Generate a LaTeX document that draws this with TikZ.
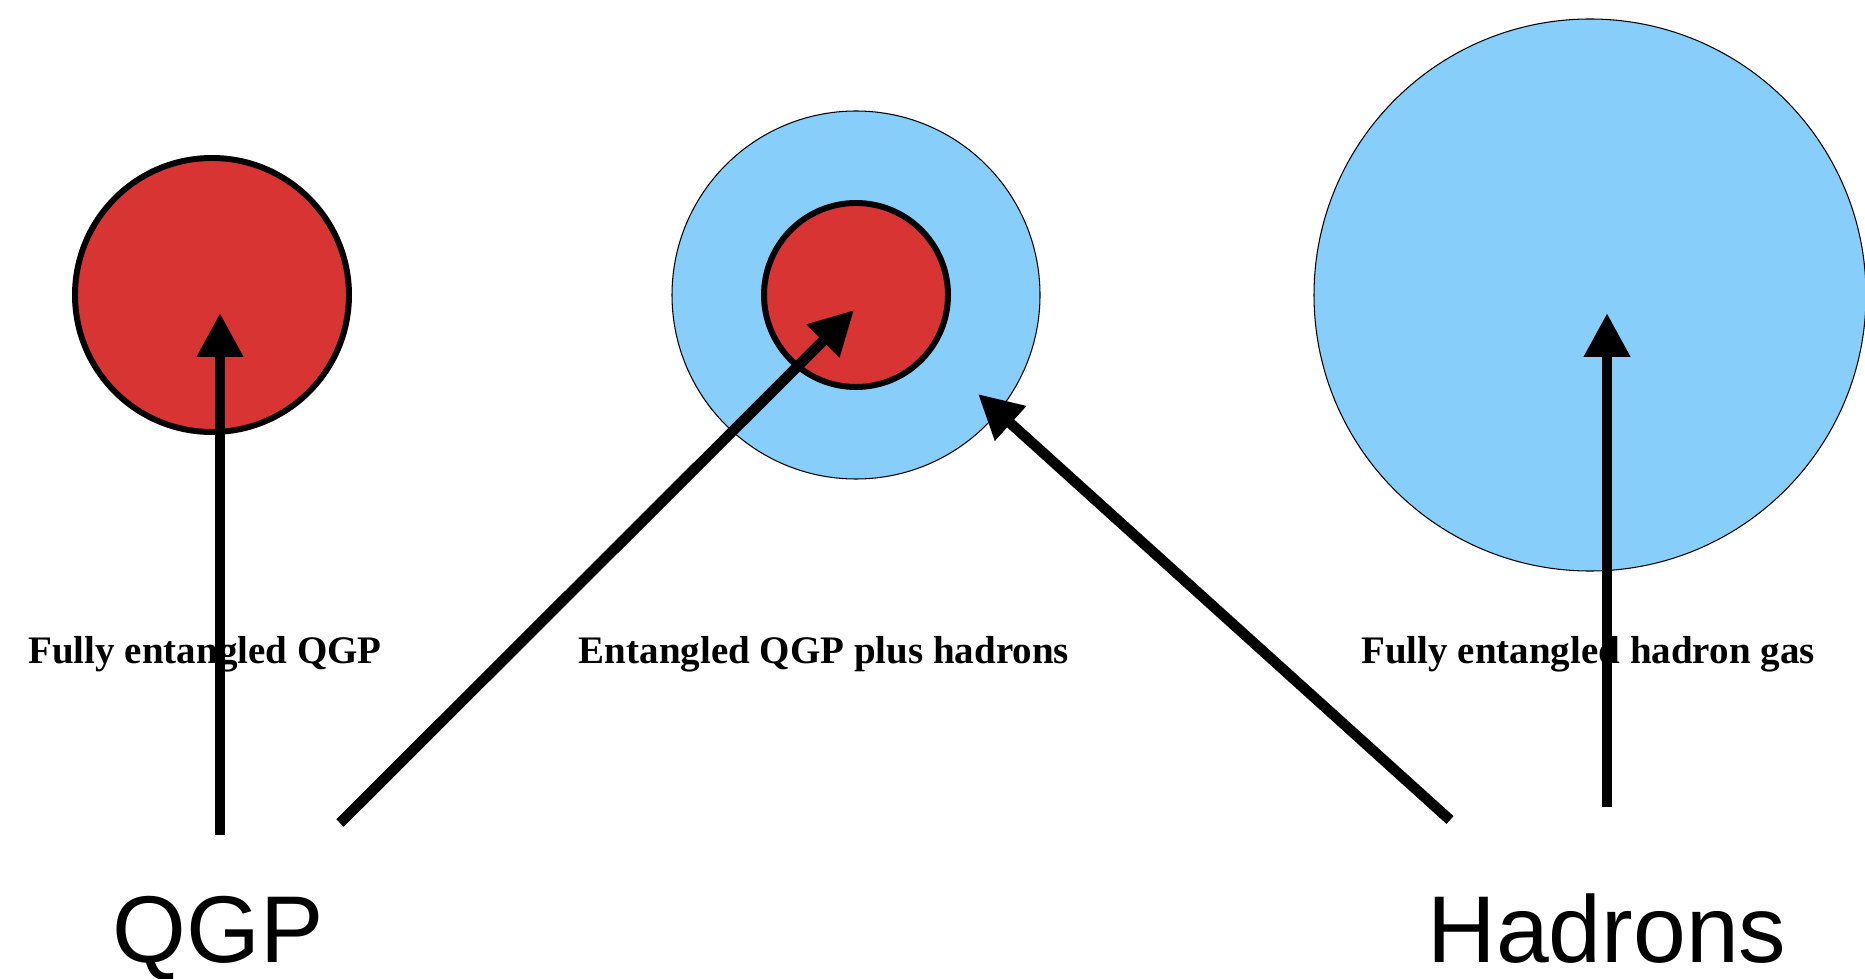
\documentclass[tikz,border=0pt]{standalone}
\usepackage{fontspec}
\setmainfont{Liberation Serif}
\newfontfamily\helv{Liberation Sans}
\usetikzlibrary{arrows.meta}

\definecolor{qgpred}{RGB}{217,52,52}
\definecolor{hadblue}{RGB}{135,206,250}

\tikzstyle{blob}=[circle, inner sep=0pt, draw=black]
\tikzstyle{qgp}=[blob, fill=qgpred, line width=1.7pt]
\tikzstyle{had}=[blob, fill=hadblue, line width=0.3pt]
\tikzstyle{phase}=[anchor=base, font=\bfseries\fontsize{11.1}{13}\selectfont]
\tikzstyle{kind}=[anchor=base, font=\helv\fontsize{27}{32}\selectfont]
\tikzstyle{pointer}=[line width=3pt, -{Triangle[length=0.44cm, width=0.44cm]}]

\begin{document}
\begin{tikzpicture}
    \useasboundingbox (0, 0) rectangle (18.65, 9.78);

    % the three stages
    \node[qgp] (qgp1)  at (2.12, 6.83)  [minimum size=2.74cm] {};
    \node[had] (mix)   at (8.56, 6.83)  [minimum size=3.68cm] {};
    \node[qgp] (core)  at (8.56, 6.83)  [minimum size=1.84cm] {};
    \node[had] (gas)   at (15.90, 6.83) [minimum size=5.52cm] {};

    \node[phase] (lab1) at (2.05, 3.15)  {Fully entangled QGP};
    \node[phase] (lab2) at (8.24, 3.15)  {Entangled QGP plus hadrons};
    \node[phase] (lab3) at (15.88, 3.15) {Fully entangled hadron gas};

    \node[kind] (qgpname) at (2.18, 0.16)  {QGP};
    \node[kind] (hadname) at (16.07, 0.16) {Hadrons};

    % arrows from the names
    \coordinate (tail1) at (2.20, 1.43);
    \coordinate (tail2) at (3.40, 1.55);
    \coordinate (tail3) at (14.50, 1.58);
    \coordinate (tail4) at (16.07, 1.71);
    \coordinate (tip1) at (2.20, 6.65);
    \coordinate (tip2) at (8.54, 6.68);
    \coordinate (tip3) at (9.78, 5.84);
    \coordinate (tip4) at (16.07, 6.65);

    \draw[pointer] (tail1) -- (tip1);
    \draw[pointer] (tail2) -- (tip2);
    \draw[pointer] (tail3) -- (tip3);
    \draw[pointer] (tail4) -- (tip4);
  \end{tikzpicture}
\end{document}
